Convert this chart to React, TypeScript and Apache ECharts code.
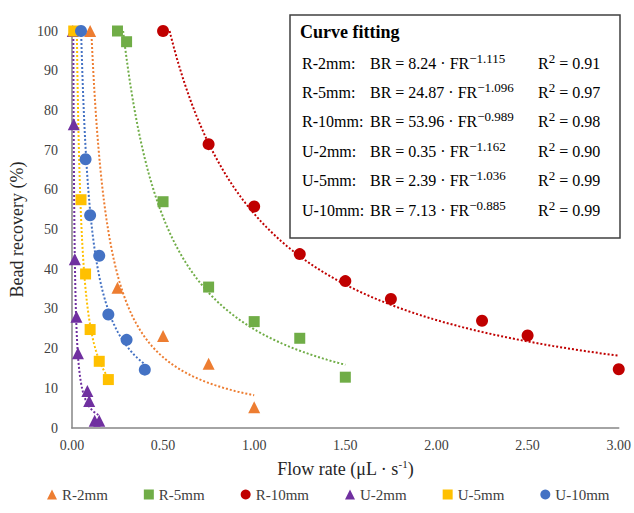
import React, { useEffect, useRef } from "react";
import * as echarts from "echarts";

const SERIES_NAMES = ["R-2mm", "R-5mm", "R-10mm", "U-2mm", "U-5mm", "U-10mm"];
const SERIES_COLORS = ["#ED7D31", "#70AD47", "#C00000", "#7030A0", "#FFC000", "#4472C4"];
const SERIES_SYMBOLS = ["triangle", "rect", "circle", "triangle", "rect", "circle"];

const R2_X = [0.1, 0.25, 0.5, 0.75, 1.0];
const R2_Y = [100, 35.3, 23.2, 16.2, 5.2];
const R5_X = [0.25, 0.3, 0.5, 0.75, 1.0, 1.25, 1.5];
const R5_Y = [100, 97.3, 57, 35.5, 26.8, 22.6, 12.8];
const R10_X = [0.5, 0.75, 1.0, 1.25, 1.5, 1.75, 2.25, 2.5, 3.0];
const R10_Y = [100, 71.5, 55.8, 43.8, 37, 32.5, 27, 23.3, 14.8];
const U2_X = [0.005, 0.01, 0.016, 0.025, 0.033, 0.085, 0.095, 0.125, 0.15];
const U2_Y = [100, 76.5, 42.5, 28, 18.8, 9.3, 6.8, 1.8, 1.8];
const U5_X = [0.01, 0.05, 0.075, 0.1, 0.15, 0.2];
const U5_Y = [100, 57.5, 38.8, 24.8, 16.8, 12.2];
const U10_X = [0.05, 0.075, 0.1, 0.15, 0.2, 0.3, 0.4];
const U10_Y = [100, 67.7, 53.6, 43.4, 28.6, 22.2, 14.7];

const ALL_X = [R2_X, R5_X, R10_X, U2_X, U5_X, U10_X];
const ALL_Y = [R2_Y, R5_Y, R10_Y, U2_Y, U5_Y, U10_Y];

// Power-law fit coefficients shown in the chart: BR = a * FR^b
const FIT_A = [8.24, 24.87, 53.96, 0.35, 2.39, 7.13];
const FIT_A_TEXT = ["8.24", "24.87", "53.96", "0.35", "2.39", "7.13"];
const FIT_B = [-1.115, -1.096, -0.989, -1.162, -1.036, -0.885];
const FIT_B_TEXT = ["1.115", "1.096", "0.989", "1.162", "1.036", "0.885"];
const FIT_R2 = ["0.91", "0.97", "0.98", "0.90", "0.99", "0.99"];

const X_TICKS = [0, 0.5, 1, 1.5, 2, 2.5, 3];
const Y_TICKS = [0, 10, 20, 30, 40, 50, 60, 70, 80, 90, 100];

const FONT = "'Liberation Serif', 'Times New Roman', serif";

function trendline(i: number): number[][] {
  const xs = ALL_X[i];
  const a = FIT_A[i];
  const b = FIT_B[i];
  const xMax = Math.max(...xs);
  const xTop = Math.pow(100 / a, 1 / b);
  const xMin = Math.max(Math.min(...xs), xTop);
  const pts: number[][] = [];
  const n = 120;
  for (let k = 0; k <= n; k++) {
    const x = xMin * Math.pow(xMax / xMin, k / n);
    pts.push([x, a * Math.pow(x, b)]);
  }
  return pts;
}

export default function App() {
  const ref = useRef<HTMLDivElement>(null);
  useEffect(() => {
    if (!ref.current) return;
    const chart = echarts.init(ref.current, undefined, { renderer: "svg" });

    const scatterSeries = SERIES_NAMES.map((name, i) => ({
      name,
      type: "scatter",
      symbol: SERIES_SYMBOLS[i],
      symbolSize: SERIES_SYMBOLS[i] === "circle" ? 12 : SERIES_SYMBOLS[i] === "triangle" ? 12 : 11,
      itemStyle: { color: SERIES_COLORS[i], opacity: 1 },
      data: ALL_X[i].map((x, k) => [x, ALL_Y[i][k]]),
      z: 5,
      clip: false,
    }));
    const lineSeries = SERIES_NAMES.map((name, i) => ({
      name: name + " fit",
      type: "line",
      showSymbol: false,
      symbol: "none",
      data: trendline(i),
      lineStyle: { color: SERIES_COLORS[i], width: 2, type: [2, 2] },
      z: 3,
      silent: true,
    }));

    const rich = {
      m: { fontSize: 16, fontFamily: FONT, lineHeight: 22, fill: "#000", verticalAlign: "middle" },
      s: { fontSize: 13, fontFamily: FONT, lineHeight: 13, fill: "#000", verticalAlign: "top" },
    };
    const rowYs = [63, 92, 121, 151, 180, 210];
    const boxTexts: any[] = [];
    SERIES_NAMES.forEach((name, i) => {
      boxTexts.push({
        type: "text",
        x: 302,
        y: rowYs[i],
        style: { text: name + ":", font: `16px ${FONT}`, fill: "#000", verticalAlign: "middle" },
      });
      boxTexts.push({
        type: "text",
        x: 370,
        y: rowYs[i],
        style: {
          text: `{m|BR = ${FIT_A_TEXT[i]} · FR}{s|−${FIT_B_TEXT[i]}}`,
          verticalAlign: "middle",
          rich,
        },
      });
      boxTexts.push({
        type: "text",
        x: 538,
        y: rowYs[i],
        style: {
          text: `{m|R}{s|2}{m| = ${FIT_R2[i]}}`,
          verticalAlign: "middle",
          rich,
        },
      });
    });

    chart.setOption({
      animation: false,
      backgroundColor: "#fff",
      grid: { left: 70, right: 14, top: 31, bottom: 85, containLabel: false },
      xAxis: {
        type: "value",
        min: X_TICKS[0],
        max: X_TICKS[X_TICKS.length - 1],
        interval: 0.5,
        name: "{a|Flow rate (μL · s}{s|-1}{a|)}",
        nameLocation: "middle",
        nameGap: 30,
        nameTextStyle: {
          rich: {
            a: { fontSize: 18, fontFamily: FONT, color: "#262626", lineHeight: 22, verticalAlign: "middle" },
            s: { fontSize: 11, fontFamily: FONT, color: "#262626", lineHeight: 11, verticalAlign: "top" },
          },
        },
        axisLine: { show: true, lineStyle: { color: "#868686", width: 1.5 } },
        axisTick: { show: false },
        splitLine: { show: false },
        axisLabel: {
          formatter: (v: number) => v.toFixed(2),
          fontSize: 14,
          fontFamily: FONT,
          color: "#404040",
          margin: 10,
        },
      },
      yAxis: {
        type: "value",
        min: Y_TICKS[0],
        max: Y_TICKS[Y_TICKS.length - 1],
        interval: 10,
        name: "Bead recovery (%)",
        nameLocation: "middle",
        nameGap: 39,
        nameTextStyle: { fontSize: 18, fontFamily: FONT, color: "#262626" },
        axisLine: { show: true, lineStyle: { color: "#868686", width: 1.5 } },
        axisTick: { show: false },
        splitLine: { show: false },
        axisLabel: { fontSize: 14, fontFamily: FONT, color: "#404040", margin: 14 },
      },
      legend: {
        data: SERIES_NAMES.map((n, i) => ({ name: n, icon: SERIES_SYMBOLS[i] })),
        bottom: 6,
        left: 42,
        itemWidth: 10,
        itemHeight: 10,
        itemGap: 36,
        textStyle: { fontSize: 15, fontFamily: FONT, color: "#404040" },
      },
      graphic: [
        {
          type: "rect",
          shape: { x: 290, y: 15, width: 330, height: 223 },
          style: { fill: "#fff", stroke: "#404040", lineWidth: 1.5 },
          z: 10,
        },
        {
          type: "text",
          x: 300,
          y: 32,
          z: 11,
          style: { text: "Curve fitting", font: `bold 18px ${FONT}`, fill: "#000", verticalAlign: "middle" },
        },
        ...boxTexts.map((t) => ({ ...t, z: 11 })),
      ],
      series: [...lineSeries, ...scatterSeries],
    });
    return () => chart.dispose();
  }, []);
  return <div ref={ref} style={{ width: 634, height: 513, position: "absolute", left: 0, top: 0 }} />;
}
